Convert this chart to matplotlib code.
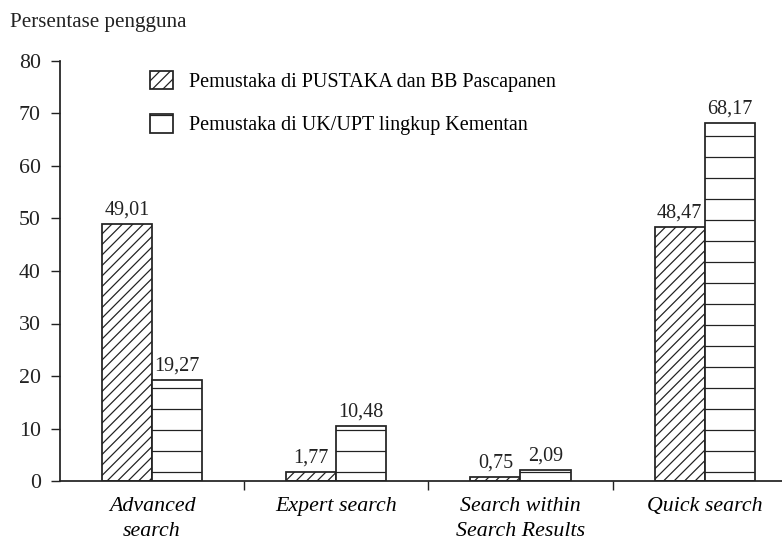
import matplotlib
matplotlib.use("Agg")
import matplotlib.pyplot as plt
import numpy as np

categories = ["Advanced\nsearch", "Expert search", "Search within\nSearch Results", "Quick search"]
series1_name = "Pemustaka di PUSTAKA dan BB Pascapanen"
series2_name = "Pemustaka di UK/UPT lingkup Kementan"
series1 = [49.01, 1.77, 0.75, 48.47]
series2 = [19.27, 10.48, 2.09, 68.17]
yticks = [0, 10, 20, 30, 40, 50, 60, 70, 80]

DPI = 126
plt.rcParams['font.family'] = ['Liberation Serif', 'DejaVu Serif']
plt.rcParams['hatch.linewidth'] = 0.7
plt.rcParams['hatch.color'] = '#222222'

fig = plt.figure(figsize=(782 / DPI, 544 / DPI), dpi=DPI)
ax = fig.add_axes([60 / 782, 1 - 481 / 544, 722 / 782, 420 / 544])

x = np.arange(len(categories))
w = 0.272
b1 = ax.bar(x - w / 2, series1, w, facecolor='white', edgecolor='#222222',
            hatch='////', linewidth=1.0, label=series1_name)
b2 = ax.bar(x + w / 2, series2, w, facecolor='white', edgecolor='#222222',
            hatch='-', linewidth=1.0, label=series2_name)

def fmt(v):
    return f"{v:.2f}".replace('.', ',')

for rects, vals in ((b1, series1), (b2, series2)):
    for r, v in zip(rects, vals):
        ax.text(r.get_x() + r.get_width() / 2, v + 0.8, fmt(v), ha='center',
                va='bottom', fontsize=11.5, color='#222222')

ax.set_ylim(0, 80)
ax.set_xlim(-0.5, 3.42)
ax.set_yticks(yticks)
ax.set_yticklabels([str(t) for t in yticks], fontsize=12.5)
ax.set_xticks([0.5, 1.5, 2.5])
ax.set_xticklabels([])
ax.set_xticks(x, minor=True)
ax.set_xticklabels(categories, minor=True, fontsize=12.5, style='italic',
                   linespacing=1.45)
ax.tick_params(axis='x', which='minor', length=0, pad=9)
ax.tick_params(axis='x', which='major', length=5, direction='out', color='#222222')
ax.tick_params(axis='y', length=5, direction='out', pad=6, color='#222222', labelcolor='#222222')
for s in ('top', 'right'):
    ax.spines[s].set_visible(False)
for s in ('left', 'bottom'):
    ax.spines[s].set_color('#222222')
    ax.spines[s].set_linewidth(1.0)

leg = ax.legend(loc='upper left', bbox_to_anchor=(0.099, 1.02), frameon=False,
                fontsize=11.5, handlelength=1.15, handleheight=1.05,
                labelspacing=1.1, handletextpad=0.8)

fig.text(10 / 782, 1 - 23 / 544, "Persentase pengguna", fontsize=12,
         ha='left', va='center', color='#222222')

fig.savefig("out.png", dpi=DPI)
